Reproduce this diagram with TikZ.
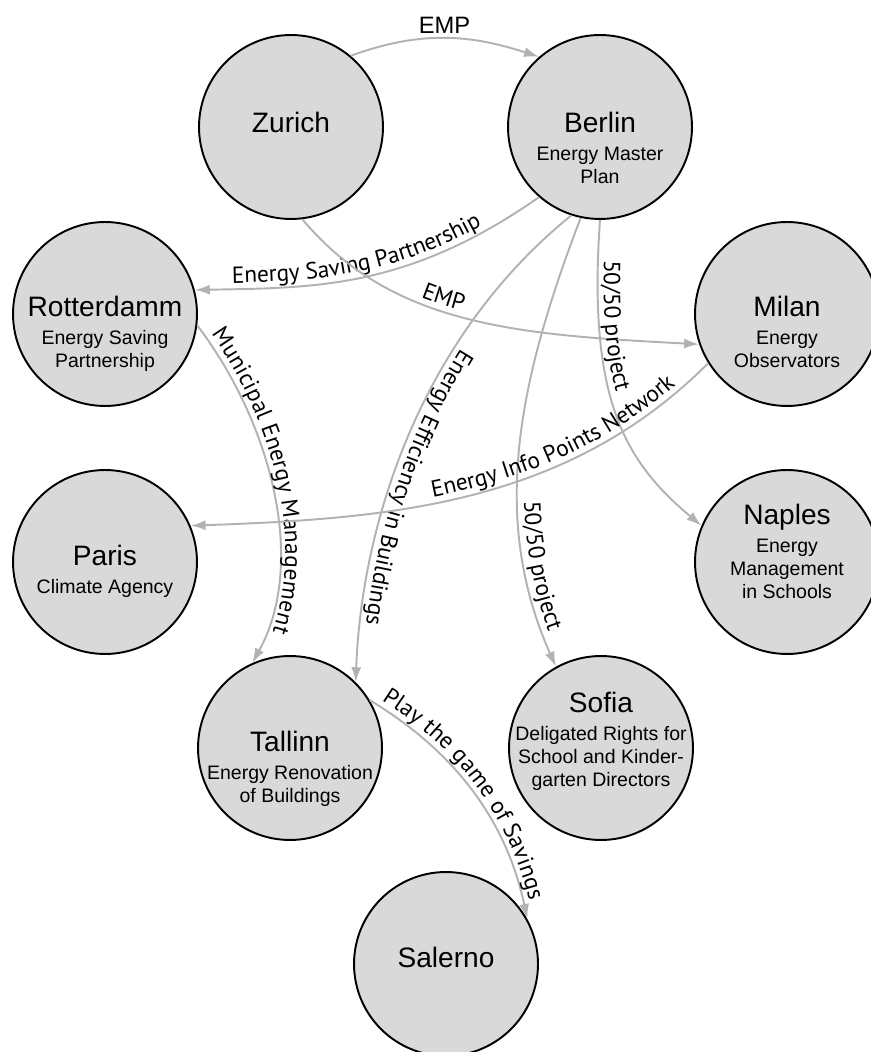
\documentclass[tikz,border=0pt]{standalone}
\usepackage{fontspec}
\setmainfont{Liberation Sans}
\newfontfamily\lblfamily{PT Sans}
\usetikzlibrary{arrows.meta,decorations.text}
\definecolor{nodefill}{RGB}{217,217,217}
\definecolor{edgegray}{RGB}{178,178,178}
\newcommand{\ttlfont}{\fontsize{16}{19}\selectfont}
\newcommand{\subfont}{\fontsize{11.1}{12.9}\selectfont}
\newcommand{\lblfont}{\lblfamily\fontsize{13.3}{16}\selectfont}
\newcommand{\topfont}{\fontsize{13.5}{16}\selectfont}
\newcommand{\sublines}[1]{\begin{tabular}[t]{@{}c@{}}#1\end{tabular}}
\begin{document}
\begin{tikzpicture}[x=0.02cm,y=0.02cm,
  city/.style={circle, draw=black, line width=1.1pt, fill=nodefill, minimum size=3.68cm, inner sep=0pt},
  ttl/.style={anchor=base, inner sep=0pt, font=\ttlfont},
  sub/.style={anchor=base, inner sep=0pt, font=\subfont},
  link/.style={draw=edgegray, line width=1.1pt, -{Latex[length=0.3cm,width=0.2cm]}},
  lbl/.style={decorate, decoration={text along path, raise=3.5pt, text color=black}},
]
\useasboundingbox (0,0) rectangle (871,1052);

% cities
\node[city] (zur) at (291,925) {};
\node[city] (ber) at (600,925) {};
\node[city] (rot) at (105,738) {};
\node[city] (mil) at (787,738) {};
\node[city] (par) at (105,490) {};
\node[city] (nap) at (787,490) {};
\node[city] (tal) at (290,304) {};
\node[city] (sof) at (601,304) {};
\node[city] (sal) at (446,88) {};

% texts
\node[ttl] (zur-t) at (291,919) {Zurich};
\node[ttl] (ber-t) at (600,919) {Berlin};
\node[sub] (ber-s) at (600,891) {\sublines{Energy Master\\Plan}};
\node[ttl] (rot-t) at (105,735) {Rotterdamm};
\node[sub] (rot-s) at (105,707) {\sublines{Energy Saving\\Partnership}};
\node[ttl] (mil-t) at (787,735) {Milan};
\node[sub] (mil-s) at (787,707) {\sublines{Energy\\Observators}};
\node[ttl] (par-t) at (105,486) {Paris};
\node[sub] (par-s) at (105,458) {\sublines{Climate Agency}};
\node[ttl] (nap-t) at (787,527) {Naples};
\node[sub] (nap-s) at (787,499) {\sublines{Energy\\Management\\in Schools}};
\node[ttl] (tal-t) at (290,300) {Tallinn};
\node[sub] (tal-s) at (290,272) {\sublines{Energy Renovation\\of Buildings}};
\node[ttl] (sof-t) at (601,339) {Sofia};
\node[sub] (sof-s) at (601,311) {\sublines{Deligated Rights for\\School and Kinder-\\garten Directors}};
\node[ttl] (sal-t) at (446,84) {Salerno};

% Zurich -> Berlin
\draw[link] (zur.50) to[out=20,in=162]
  node[midway, anchor=base, yshift=0.1cm, inner sep=0pt, font=\topfont] (emp-top) {EMP} (ber.131);

% Berlin -> Rotterdamm
\draw[link] (ber.229) .. controls +(215:160) and +(1:120) .. (rot.15);
\path[lbl, decoration={text={|\lblfont|Energy Saving Partnership}, text align={left indent=0.75cm}}]
  (rot.15) .. controls +(1:120) and +(215:160) .. (ber.229);

% Zurich -> Milan
\draw[link] (zur.-83) .. controls +(-50:140) and +(177:180) .. (mil.199);
\path[lbl, decoration={text={|\lblfont|EMP}, text align={left indent=2.9cm}}]
  (zur.-83) .. controls +(-50:140) and +(177:180) .. (mil.199);

% Rotterdamm -> Tallinn
\draw[link] (rot.-7) .. controls +(-53:130) and +(61:110) .. (tal.114);
\path[lbl, decoration={text={|\lblfont|Municipal Energy Management}, text align={left indent=0.3cm}}]
  (rot.-7) .. controls +(-53:130) and +(61:110) .. (tal.114);

% Berlin -> Tallinn
\draw[link] (ber.252) .. controls +(219:200) and +(88:150) .. (tal.45);
\path[lbl, decoration={text={|\lblfont|Energy Efficiency in Buildings}, text align={left indent=3.5cm}}]
  (ber.252) .. controls +(219:200) and +(88:150) .. (tal.45);

% Berlin -> Naples
\draw[link] (ber.-90) .. controls +(-94:180) and +(140:100) .. (nap.157);
\path[lbl, decoration={text={|\lblfont|50/50 project}, text align={left indent=0.8cm}}]
  (ber.-90) .. controls +(-94:180) and +(140:100) .. (nap.157);

% Berlin -> Sofia
\draw[link] (ber.258) .. controls +(249:180) and +(114:160) .. (sof.119);
\path[lbl, decoration={text={|\lblfont|50/50 project}, text align={left indent=5.85cm}}]
  (ber.258) .. controls +(249:180) and +(114:160) .. (sof.119);

% Milan -> Paris
\draw[link] (mil.212) .. controls +(225:200) and +(2:200) .. (par.23);
\path[lbl, decoration={text={|\lblfont|Energy Info Points Network}, text align={left indent=4.9cm}}]
  (par.23) .. controls +(2:200) and +(225:200) .. (mil.212);

% Tallinn -> Salerno
\draw[link] (tal.31) .. controls +(-31:100) and +(102:100) .. (sal.29);
\path[lbl, decoration={text={|\lblfont|Play the game of Savings}, text align={left indent=0.2cm}}]
  (tal.31) .. controls +(-31:100) and +(102:100) .. (sal.29);
\end{tikzpicture}
\end{document}
